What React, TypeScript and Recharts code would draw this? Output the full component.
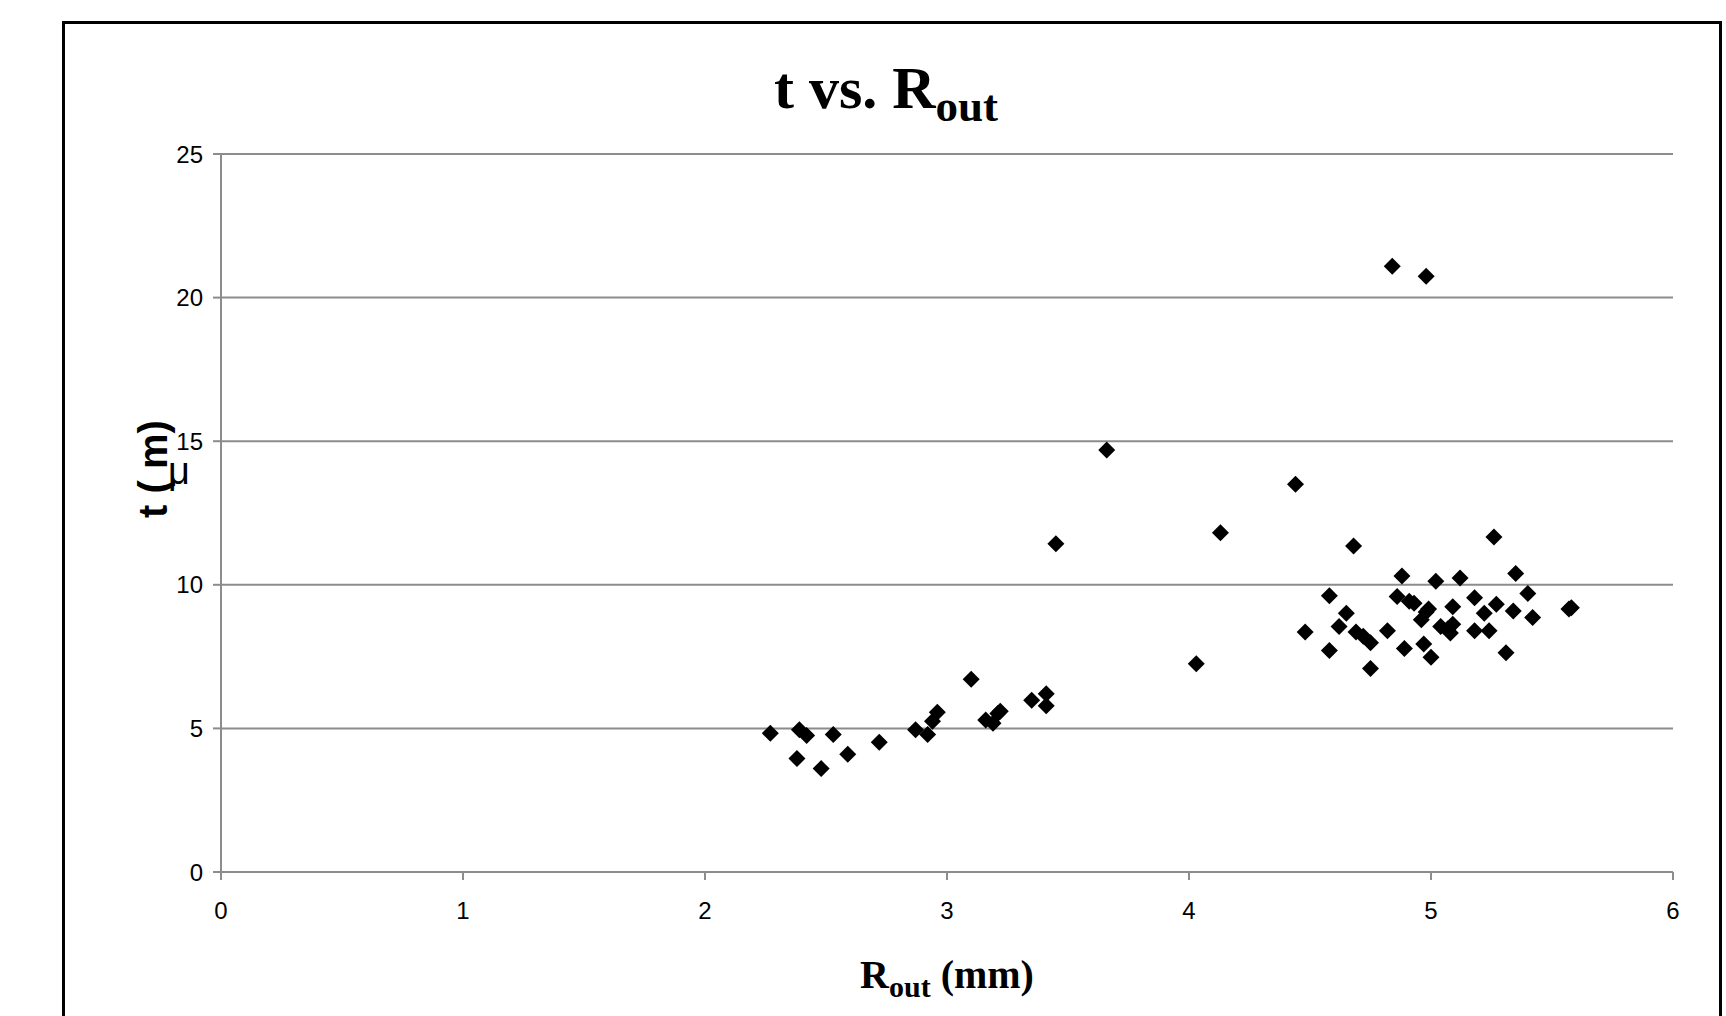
import React from 'react';
import { ScatterChart, Scatter, XAxis, YAxis, CartesianGrid } from 'recharts';

const rOut: number[] = [
  2.27, 2.38, 2.39, 2.42, 2.48, 2.53, 2.59, 2.72, 2.87, 2.92, 2.94, 2.96, 3.10, 3.16, 3.19, 3.21, 3.22,
  3.35, 3.41, 3.41, 3.45, 3.66, 4.03, 4.13, 4.44,
  4.48, 4.58, 4.58, 4.62, 4.65, 4.68, 4.69, 4.72, 4.75, 4.75, 4.82, 4.84, 4.86, 4.88, 4.89, 4.91, 4.93,
  4.96, 4.97, 4.98, 4.98, 4.99, 5.00, 5.02, 5.04, 5.07, 5.08, 5.09, 5.09, 5.12, 5.18, 5.18, 5.22, 5.24,
  5.26, 5.27, 5.31, 5.34, 5.35, 5.40, 5.42, 5.57, 5.58,
];
const thickness: number[] = [
  4.83, 3.95, 4.95, 4.75, 3.60, 4.79, 4.10, 4.52, 4.95, 4.79, 5.25, 5.56, 6.71, 5.29, 5.18, 5.52, 5.60,
  5.98, 6.21, 5.79, 11.43, 14.69, 7.25, 11.81, 13.50,
  8.36, 9.62, 7.71, 8.55, 9.01, 11.35, 8.36, 8.21, 7.98, 7.09, 8.40, 21.09, 9.59, 10.31, 7.78, 9.43, 9.36,
  8.78, 7.94, 20.74, 9.05, 9.16, 7.48, 10.12, 8.55, 8.47, 8.32, 8.63, 9.24, 10.24, 9.55, 8.40, 9.01, 8.40,
  11.66, 9.32, 7.63, 9.09, 10.39, 9.70, 8.86, 9.16, 9.20,
];
const xTicks: number[] = [0, 1, 2, 3, 4, 5, 6];
const yTicks: number[] = [0, 5, 10, 15, 20, 25];

const points = rOut.map((x, i) => ({ x, y: thickness[i] }));

const Diamond = (props: any) => {
  const { cx, cy } = props;
  const h = 8.5;
  return (
    <polygon
      points={`${cx},${cy - h} ${cx + h},${cy} ${cx},${cy + h} ${cx - h},${cy}`}
      fill="#000"
    />
  );
};

const tickStyle = { fontFamily: 'Arial, "Liberation Sans", sans-serif', fontSize: 24, fill: '#000' };

export default function App() {
  return (
    <div style={{ position: 'absolute', left: 0, top: 0, width: 1726, height: 1016, overflow: 'hidden', background: '#fff' }}>
      <div
        style={{
          position: 'absolute',
          left: 62,
          top: 21,
          width: 1660,
          height: 1100,
          border: '3px solid #000',
          boxSizing: 'border-box',
        }}
      />
      <div style={{ position: 'absolute', left: 0, top: 0 }}>
        <ScatterChart width={1726} height={1016} margin={{ top: 154, right: 53, bottom: 0, left: 0 }}>
          <CartesianGrid horizontal vertical={false} stroke="#8c8c8c" strokeWidth={2} />
          <XAxis
            type="number"
            dataKey="x"
            domain={[0, 6]}
            ticks={xTicks}
            height={144}
            axisLine={{ stroke: '#8c8c8c', strokeWidth: 2 }}
            tickLine={{ stroke: '#8c8c8c', strokeWidth: 2 }}
            tickSize={8}
            tickMargin={22}
            tick={tickStyle}
            interval={0}
          />
          <YAxis
            type="number"
            dataKey="y"
            domain={[0, 25]}
            ticks={yTicks}
            width={221}
            axisLine={{ stroke: '#8c8c8c', strokeWidth: 2 }}
            tickLine={{ stroke: '#8c8c8c', strokeWidth: 2 }}
            tickSize={8}
            tickMargin={10}
            tick={tickStyle}
            interval={0}
          />
          <Scatter data={points} shape={<Diamond />} isAnimationActive={false} />
        </ScatterChart>
      </div>
      <svg width={1726} height={1016} style={{ position: 'absolute', left: 0, top: 0, pointerEvents: 'none' }}>
        <text
          x={886}
          y={108}
          textAnchor="middle"
          fontFamily='"Times New Roman", "Liberation Serif", serif'
          fontWeight="bold"
          fontSize={60}
          fill="#000"
        >
          t vs. R<tspan fontSize={45} dy={13}>out</tspan>
        </text>
        <text
          x={947}
          y={988}
          textAnchor="middle"
          fontFamily='"Times New Roman", "Liberation Serif", serif'
          fontWeight="bold"
          fontSize={40}
          fill="#000"
        >
          R<tspan fontSize={30} dy={9}>out</tspan>
          <tspan fontSize={40} dy={-9}> (mm)</tspan>
        </text>
        <text
          x={0}
          y={0}
          transform="translate(167,469) rotate(-90)"
          textAnchor="middle"
          fontFamily='Arial, "Liberation Sans", sans-serif'
          fontWeight="bold"
          fontSize={40}
          fill="#000"
        >
          t (   m)
        </text>
        <text
          x={179}
          y={484}
          textAnchor="middle"
          fontFamily='Arial, "Liberation Sans", sans-serif'
          fontSize={38}
          fill="#000"
        >
          μ
        </text>
      </svg>
    </div>
  );
}
